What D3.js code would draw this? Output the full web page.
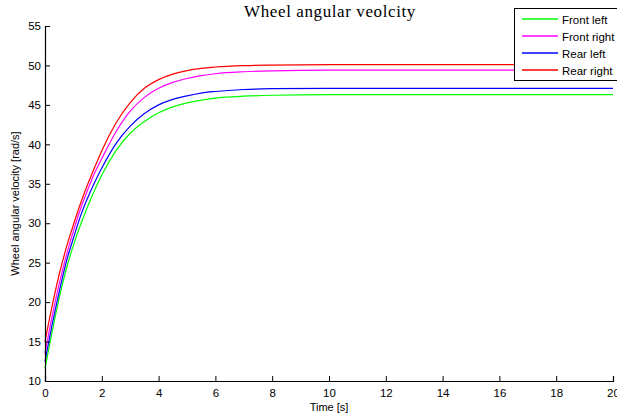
<!DOCTYPE html>
<html>
<head>
<meta charset="utf-8">
<script src="https://cdn.jsdelivr.net/npm/d3@7"></script>
<style>
  body { margin: 0; background: #fff; }
  svg { display: block; font-family: "Liberation Sans", Arial, sans-serif; }
</style>
</head>
<body>
<div class="chart"></div>
<script>
// sample times (s)
var times = [0, 0.25, 0.5, 0.75, 1, 1.25, 1.5, 1.75, 2, 2.5, 3, 3.5, 4, 4.5, 5, 5.5, 6, 7, 8, 10, 12, 14, 16, 18, 20];

var frontLeft  = [11.6, 16.2, 20.5, 24.2, 27.2, 29.8, 32.1, 34.2, 36.1, 39.2, 41.4, 42.9, 44.0, 44.75, 45.25, 45.6, 45.85, 46.1, 46.22, 46.3, 46.3, 46.3, 46.3, 46.3, 46.3];
var frontRight = [13.5, 18.2, 22.3, 25.9, 29.0, 31.8, 34.2, 36.4, 38.2, 41.6, 44.2, 45.95, 47.1, 47.85, 48.35, 48.7, 48.95, 49.2, 49.32, 49.4, 49.4, 49.4, 49.4, 49.4, 49.4];
var rearLeft   = [12.5, 17.1, 21.3, 25.1, 28.1, 30.9, 33.2, 35.2, 37.0, 40.1, 42.3, 43.9, 45.0, 45.7, 46.15, 46.5, 46.7, 46.95, 47.05, 47.1, 47.1, 47.1, 47.1, 47.1, 47.1];
var rearRight  = [15.0, 19.5, 23.5, 26.9, 29.8, 32.5, 34.9, 37.1, 39.2, 42.7, 45.3, 47.1, 48.2, 48.9, 49.35, 49.63, 49.8, 49.98, 50.05, 50.1, 50.1, 50.1, 50.1, 50.1, 50.1];

var seriesNames = ["Front left", "Front right", "Rear left", "Rear right"];
var seriesColors = ["#00ff00", "#ff00ff", "#0000ff", "#ff0000"];
var seriesValues = [frontLeft, frontRight, rearLeft, rearRight];

var xTicks = [0, 2, 4, 6, 8, 10, 12, 14, 16, 18, 20];
var yTicks = [10, 15, 20, 25, 30, 35, 40, 45, 50, 55];

var svgWidth = 617;
var svgHeight = 417;

var margin = { top: 26, right: 4, bottom: 36, left: 45 };
var width = 613 - margin.left;
var height = 381 - margin.top;

var svg = d3.select(".chart")
  .append("svg")
  .attr("width", svgWidth)
  .attr("height", svgHeight);

var chartGroup = svg.append("g")
  .attr("transform", `translate(${margin.left}, ${margin.top})`);

var xScale = d3.scaleLinear().domain([0, 20]).range([0, width]);
var yScale = d3.scaleLinear().domain([10, 55]).range([height, 0]);

// curves
var line = d3.line()
  .x((d, i) => xScale(times[i]))
  .y(d => yScale(d))
  .curve(d3.curveMonotoneX);

seriesValues.forEach(function(vals, k) {
  chartGroup.append("path")
    .datum(vals)
    .attr("fill", "none")
    .attr("stroke", seriesColors[k])
    .attr("stroke-width", 1.2)
    .attr("d", line);
});

// axes with inward ticks, matlab style
var bottomAxis = d3.axisBottom(xScale).tickValues(xTicks).tickSize(-5).tickPadding(8).tickFormat(d3.format("d"));
var leftAxis = d3.axisLeft(yScale).tickValues(yTicks).tickSize(-5).tickPadding(4).tickFormat(d3.format("d"));

var xAxis = chartGroup.append("g")
  .attr("transform", `translate(0, ${height})`)
  .call(bottomAxis);

var yAxis = chartGroup.append("g")
  .call(leftAxis);

[xAxis, yAxis].forEach(function(ax) {
  ax.select(".domain").attr("stroke", "#000").attr("stroke-width", 1.2);
  ax.selectAll(".tick line").attr("stroke", "#000");
  ax.selectAll(".tick text")
    .attr("fill", "#000")
    .style("font-size", "11.5px")
    .style("font-family", "Liberation Sans, Arial, sans-serif");
});

// title
svg.append("text")
  .attr("x", 330)
  .attr("y", 17)
  .attr("text-anchor", "middle")
  .style("font-family", "Liberation Serif, Times New Roman, serif")
  .style("font-size", "17px")
  .style("letter-spacing", "0.6px")
  .text("Wheel angular veolcity");

// axis labels
svg.append("text")
  .attr("x", 329)
  .attr("y", 411)
  .attr("text-anchor", "middle")
  .style("font-size", "11px")
  .text("Time [s]");

svg.append("text")
  .attr("transform", "rotate(-90)")
  .attr("x", -(margin.top + height / 2))
  .attr("y", 19)
  .attr("text-anchor", "middle")
  .style("font-size", "11px")
  .text("Wheel angular velocity [rad/s]");

// legend
var legend = svg.append("g")
  .attr("transform", "translate(514, 8)");

legend.append("rect")
  .attr("x", 0.5)
  .attr("y", 0.5)
  .attr("width", 120)
  .attr("height", 72)
  .attr("fill", "#fff")
  .attr("stroke", "#000");

seriesNames.forEach(function(name, k) {
  var y = 11 + k * 17;
  legend.append("line")
    .attr("x1", 8)
    .attr("x2", 44)
    .attr("y1", y)
    .attr("y2", y)
    .attr("stroke", seriesColors[k])
    .attr("stroke-width", 1.4);
  legend.append("text")
    .attr("x", 48)
    .attr("y", y + 4.5)
    .style("font-size", "11.5px")
    .text(name);
});
</script>
</body>
</html>
